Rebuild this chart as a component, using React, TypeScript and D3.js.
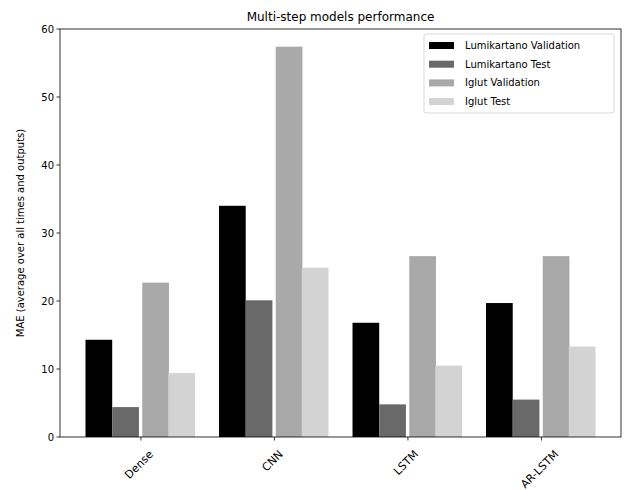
import * as d3 from 'd3';
import { useEffect, useRef } from 'react';

const models = ['Dense', 'CNN', 'LSTM', 'AR-LSTM'];
const seriesNames = ['Lumikartano Validation', 'Lumikartano Test', 'Iglut Validation', 'Iglut Test'];
const seriesColors = ['#000000', '#696969', '#a9a9a9', '#d3d3d3'];
const lumiVal = [14.3, 34.0, 16.8, 19.7];
const lumiTest = [4.4, 20.1, 4.8, 5.5];
const iglutVal = [22.7, 57.4, 26.6, 26.6];
const iglutTest = [9.4, 24.9, 10.5, 13.3];
const yTicks = [0, 10, 20, 30, 40, 50, 60];

export default function App() {
  const ref = useRef<HTMLDivElement>(null);

  useEffect(() => {
    const width = 625;
    const height = 490;
    const margin = { top: 29, right: 4, bottom: 53, left: 60 };
    const font = 'DejaVu Sans';
    const series = [lumiVal, lumiTest, iglutVal, iglutTest];
    const barW = 0.2;
    // bar left edges relative to the group tick (small gap in the middle, like the original)
    const offsets = [-0.415, -0.215, 0.01, 0.205];

    const svg = d3.create('svg').attr('width', width).attr('height', height)
      .style('display', 'block').style('position', 'absolute').style('left', 0).style('top', 0);
    svg.append('rect').attr('width', width).attr('height', height).attr('fill', 'white');
    ref.current?.append(svg.node() as SVGSVGElement);

    const x = d3.scaleLinear().domain([-0.606, 3.596]).range([margin.left, width - margin.right]);
    const y = d3.scaleLinear().domain([0, 60]).range([height - margin.bottom, margin.top]);

    const groups = svg.append('g');
    series.forEach((vals, s) => {
      groups.selectAll(null)
        .data(vals)
        .join('rect')
        .attr('x', (d, i) => x(i + offsets[s]))
        .attr('width', x(barW) - x(0))
        .attr('y', d => y(d))
        .attr('height', d => y(0) - y(d))
        .attr('fill', seriesColors[s]);
    });

    // frame
    svg.append('rect')
      .attr('x', margin.left).attr('y', margin.top)
      .attr('width', width - margin.right - margin.left)
      .attr('height', height - margin.bottom - margin.top)
      .attr('fill', 'none').attr('stroke', '#000').attr('stroke-width', 0.8);

    // y axis
    const yAxis = svg.append('g');
    yTicks.forEach(t => {
      yAxis.append('line').attr('x1', margin.left - 3.5).attr('x2', margin.left)
        .attr('y1', y(t)).attr('y2', y(t)).attr('stroke', '#000').attr('stroke-width', 0.8);
      yAxis.append('text').attr('x', margin.left - 6).attr('y', y(t)).attr('dy', '0.35em')
        .attr('text-anchor', 'end').attr('font-family', font).attr('font-size', 10)
        .attr('fill', '#000').text(t);
    });

    // x axis, labels rotated 45 and centred on the tick (matplotlib ha=center)
    models.forEach((m, i) => {
      const tx = x(i);
      svg.append('line').attr('x1', tx).attr('x2', tx)
        .attr('y1', y(0)).attr('y2', y(0) + 3.5).attr('stroke', '#000').attr('stroke-width', 0.8);
      const t = svg.append('text')
        .attr('text-anchor', 'middle').attr('dy', '0.35em')
        .attr('font-family', font).attr('font-size', 11)
        .attr('fill', '#000').text(m);
      const w = (t.node() as SVGTextElement).getComputedTextLength();
      const half = (w + 9) * Math.SQRT1_2 / 2;
      t.attr('transform', `translate(${tx - 2},${y(0) + 12 + half}) rotate(-45)`);
    });

    svg.append('text')
      .attr('transform', `translate(24,${(margin.top + height - margin.bottom) / 2}) rotate(-90)`)
      .attr('text-anchor', 'middle').attr('font-family', font).attr('font-size', 10)
      .attr('fill', '#000').text('MAE (average over all times and outputs)');

    svg.append('text')
      .attr('x', (margin.left + width - margin.right) / 2).attr('y', 21)
      .attr('text-anchor', 'middle').attr('font-family', font).attr('font-size', 12)
      .attr('fill', '#000').text('Multi-step models performance');

    // legend
    const lg = svg.append('g').attr('transform', 'translate(424,34)');
    lg.append('rect').attr('width', 190).attr('height', 79).attr('rx', 2)
      .attr('fill', 'white').attr('stroke', '#d9d9d9').attr('stroke-width', 1);
    seriesNames.forEach((n, i) => {
      lg.append('rect').attr('x', 5).attr('y', 8 + i * 18.7).attr('width', 25).attr('height', 7)
        .attr('fill', seriesColors[i]);
      lg.append('text').attr('x', 41).attr('y', 11.5 + i * 18.7).attr('dy', '0.35em')
        .attr('font-family', font).attr('font-size', 10).attr('fill', '#000').text(n);
    });

    return () => { svg.remove(); };
  }, []);

  return <div ref={ref}></div>;
}
